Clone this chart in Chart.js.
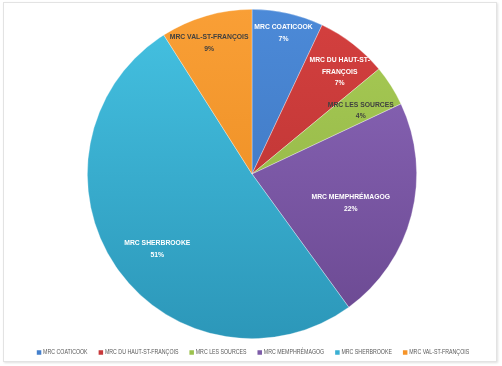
<!DOCTYPE html>
<html><head><meta charset="utf-8">
<script src="https://cdn.jsdelivr.net/npm/chart.js@4.4.1/dist/chart.umd.min.js"></script>
<style>
html,body{margin:0;padding:0;background:#fff;}
#frame{position:absolute;left:3px;top:2px;width:492px;height:358px;border:1px solid #e3e3e3;box-shadow:1px 1px 2px rgba(0,0,0,0.12);background:#fff;}
#wrap{position:absolute;left:0;top:0;width:502px;height:366px;}
</style></head>
<body>
<div id="frame"></div>
<div id="wrap"><canvas id="c" width="502" height="366"></canvas></div>
<script>
const categories = ["MRC COATICOOK","MRC DU HAUT-ST-FRANÇOIS","MRC LES SOURCES","MRC MEMPHRÉMAGOG","MRC SHERBROOKE","MRC VAL-ST-FRANÇOIS"];
const values = [7,7,4,22,51,9];
const percentLabels = ["7%","7%","4%","22%","51%","9%"];
const sliceLabelLines = [["MRC COATICOOK"],["MRC DU HAUT-ST-","FRANÇOIS"],["MRC LES SOURCES"],["MRC MEMPHRÉMAGOG"],["MRC SHERBROOKE"],["MRC VAL-ST-FRANÇOIS"]];

const colors = ["#4580cc","#c8393b","#9cc24e","#7d5ca8","#3bb0d3","#f69428"];
const lightColors = ["#4c8ad8","#d4403f","#a8cc55","#8c68bb","#45c2e2","#f99f36"];
const darkColors  = ["#3a70b8","#b3302f","#8cad42","#6a4890","#2c97b9","#e8881c"];
const labelColors = ["#ffffff","#ffffff","#404040","#ffffff","#ffffff","#404040"];
const labelRadius = [0.878,0.82,0.766,0.625,0.733,0.838];
const labelAngleShift = [0,2.7,2,1.9,-4.1,-1.9];
const FONT = '"Liberation Sans", Arial, sans-serif';

function sliceFill(c){
  const chart = c.chart, ca = chart.chartArea, i = c.dataIndex;
  if(!ca) return colors[i];
  const g = chart.ctx.createLinearGradient(0, ca.top, 0, ca.bottom);
  g.addColorStop(0, lightColors[i]);
  g.addColorStop(1, darkColors[i]);
  return g;
}

const labelPlugin = {
  id:'sliceLabels',
  afterDatasetsDraw(chart){
    const ctx = chart.ctx;
    const meta = chart.getDatasetMeta(0);
    const sx = 0.85;
    ctx.save();
    ctx.font = 'bold 8px ' + FONT;
    ctx.textAlign='center';
    ctx.textBaseline='middle';
    meta.data.forEach((arc,i)=>{
      const p = arc.getProps(['x','y','startAngle','endAngle','outerRadius'],true);
      const mid = (p.startAngle+p.endAngle)/2 + labelAngleShift[i]*Math.PI/180;
      const r = p.outerRadius*labelRadius[i];
      const cx = p.x + Math.cos(mid)*r;
      const cy = p.y + Math.sin(mid)*r;
      const lines = sliceLabelLines[i].concat([percentLabels[i]]);
      const lh = 11.3;
      ctx.fillStyle = labelColors[i];
      lines.forEach((t,k)=>{
        ctx.save();
        ctx.translate(cx, cy + (k-(lines.length-1)/2)*lh);
        ctx.scale(sx,1);
        ctx.fillText(t, 0, 0);
        ctx.restore();
      });
    });
    ctx.restore();
  }
};

const legendPlugin = {
  id:'condensedLegend',
  afterDraw(chart){
    const ctx = chart.ctx;
    const sx = 0.75, box = 4.5, gapBox = 1.8, gapItem = 11, yc = 352.5;
    ctx.save();
    ctx.font = '7px ' + FONT;
    ctx.textBaseline='middle';
    const items = chart.data.labels.map((l,i)=>({l, w: ctx.measureText(l).width*sx, c: colors[i]}));
    const total = items.reduce((s,it)=>s+box+gapBox+it.w,0) + gapItem*(items.length-1);
    let x = (chart.width - total)/2 + 2;
    items.forEach(it=>{
      ctx.fillStyle = it.c;
      ctx.fillRect(x, yc-box/2, box, box);
      x += box + gapBox;
      ctx.save();
      ctx.translate(x, yc);
      ctx.scale(sx,1);
      ctx.fillStyle = '#595959';
      ctx.fillText(it.l, 0, 0);
      ctx.restore();
      x += it.w + gapItem;
    });
    ctx.restore();
  }
};

new Chart(document.getElementById('c'),{
  type:'pie',
  data:{labels:categories,datasets:[{data:values,backgroundColor:sliceFill,borderColor:'rgba(255,255,255,0.45)',borderWidth:0.7}]},
  options:{
    responsive:false,animation:false,
    rotation:0,
    layout:{padding:{top:9,bottom:27,left:2,right:0}},
    plugins:{
      tooltip:{enabled:false},
      legend:{display:false}
    }
  },
  plugins:[labelPlugin, legendPlugin]
});
</script>
</body></html>
